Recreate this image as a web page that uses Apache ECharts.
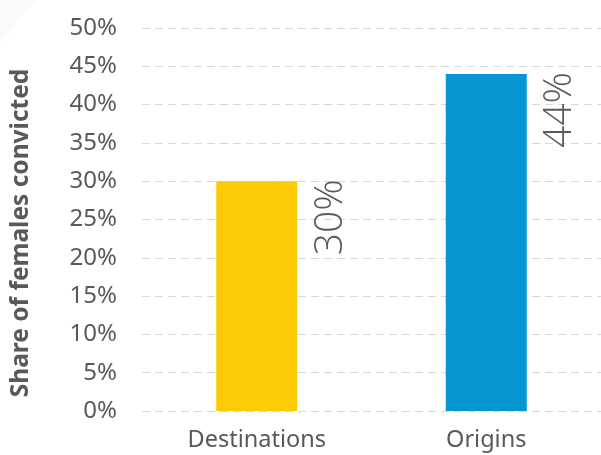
<!DOCTYPE html>
<html>
<head>
<meta charset="utf-8">
<script src="https://cdn.jsdelivr.net/npm/echarts@6/dist/echarts.min.js"></script>
<style>html,body{margin:0;padding:0;background:#fff}#c{width:601px;height:455px}</style>
</head>
<body>
<div id="c"></div>
<script>
const categories = ['Destinations', 'Origins'];
const values = [30, 44];
const barColors = ['#FDCB05', '#0896D3'];
const yTicks = [0, 5, 10, 15, 20, 25, 30, 35, 40, 45, 50];
const yAxisTitle = 'Share of females convicted';

const FONT = 'Noto Sans';
const chart = echarts.init(document.getElementById('c'), null, {renderer: 'canvas'});
chart.setOption({
  animation: false,
  backgroundColor: '#ffffff',
  graphic: [{
    type: 'polygon', z: -10,
    shape: {points: [[0, 0], [36, 0], [0, 42]]},
    style: {fill: '#fafafa'}
  }],
  grid: {left: 142, top: 28, width: 461, height: 383, containLabel: false},
  xAxis: {
    type: 'category',
    data: categories,
    axisLine: {show: false},
    axisTick: {show: false},
    axisLabel: {margin: 17, fontSize: 23.5, fontStyle: 'normal', color: '#595959', fontFamily: FONT}
  },
  yAxis: {
    type: 'value',
    min: yTicks[0], max: yTicks[yTicks.length - 1], interval: 5,
    name: yAxisTitle,
    nameLocation: 'middle',
    nameGap: 108,
    nameTextStyle: {fontSize: 24.5, fontWeight: 'bold', fontStyle: 'normal', color: '#595959', fontFamily: FONT, padding: [0, 0, 0, -27]},
    axisLine: {show: false},
    axisTick: {show: false},
    axisLabel: {margin: 25, fontSize: 24, fontStyle: 'normal', color: '#595959', fontFamily: FONT, formatter: v => v + '%'},
    splitLine: {show: true, lineStyle: {color: '#d9d9d9', type: [8, 5], width: 1}}
  },
  series: [{
    type: 'bar',
    barWidth: 81,
    data: values.map((v, i) => ({value: v, itemStyle: {color: barColors[i]}})),
    label: {
      show: true,
      position: ['117%', -2],
      rotate: 90,
      align: 'right',
      verticalAlign: 'top',
      fontSize: 39,
      fontWeight: 300,
      fontStyle: 'normal',
      color: '#595959',
      fontFamily: 'Open Sans',
      formatter: p => p.value + '%'
    }
  }]
});
</script>
</body>
</html>
